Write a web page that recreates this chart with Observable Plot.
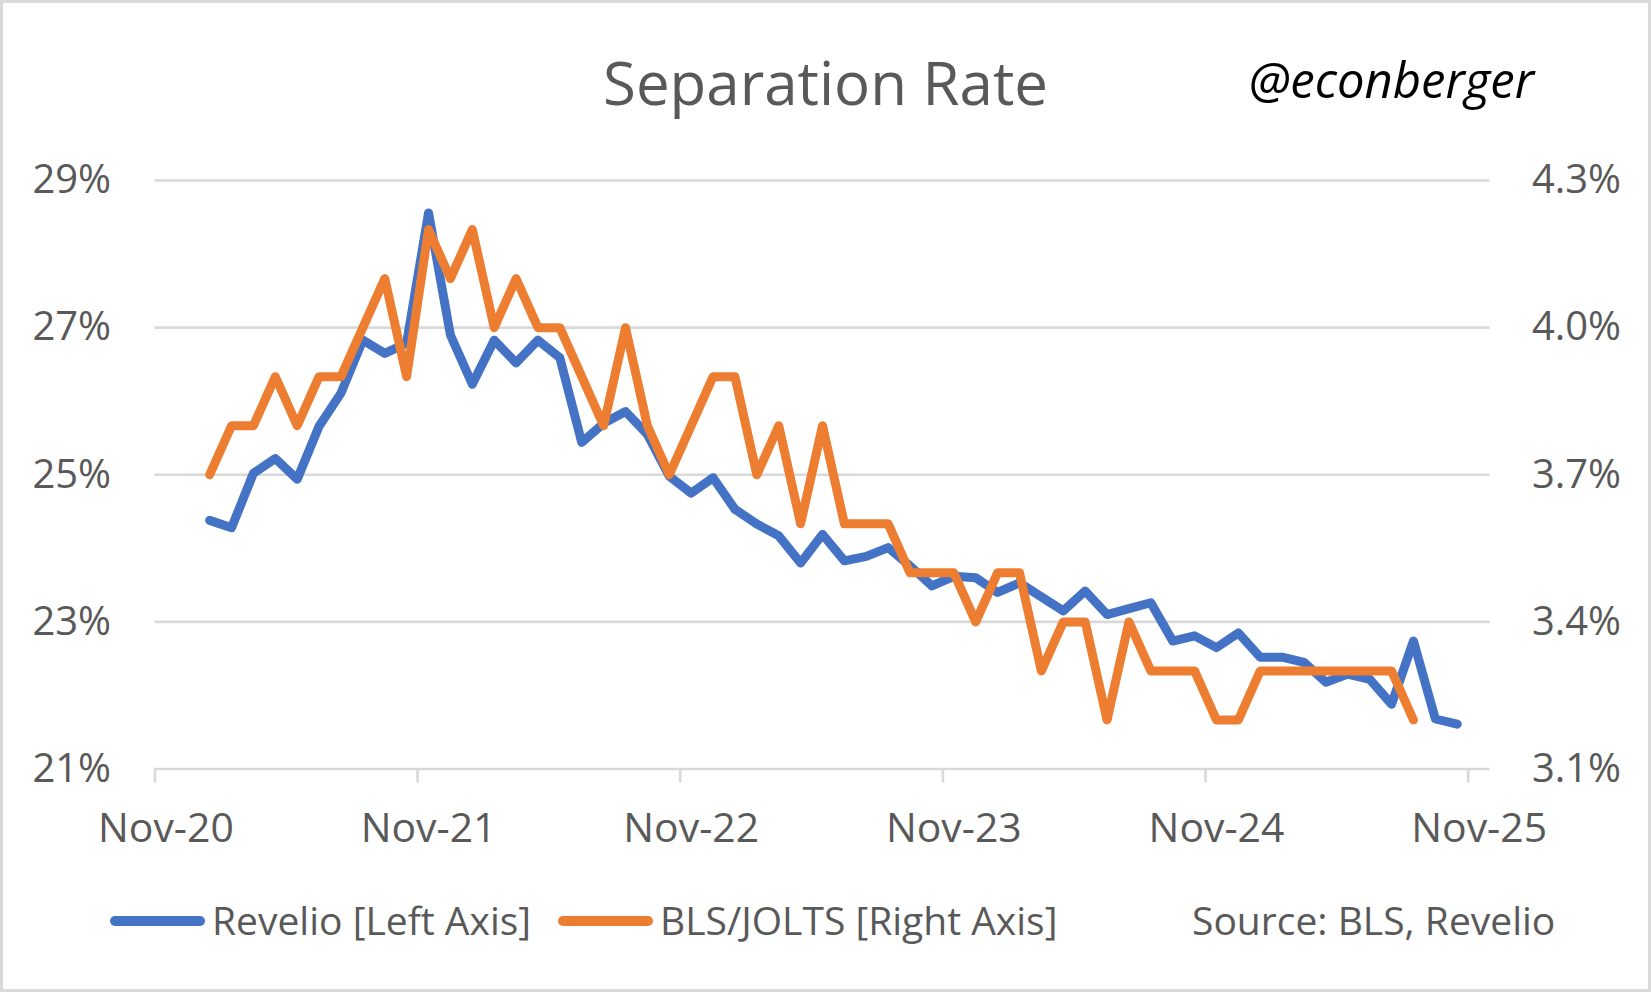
<!DOCTYPE html>
<html>
<head>
<meta charset="utf-8">
<script src="https://cdn.jsdelivr.net/npm/d3@7"></script>
<script src="https://cdn.jsdelivr.net/npm/@observablehq/plot@0.6"></script>
<style>
  html, body { margin: 0; padding: 0; background: #fff; }
  #frame { position: relative; width: 1651px; height: 992px; box-sizing: border-box; border: 3px solid #D9D9D9; overflow: hidden; background: #fff; font-family: "Open Sans", sans-serif; }
  #chart { position: absolute; left: -3px; top: 127px; }
  .abs { position: absolute; white-space: nowrap; }
  #title { left: -3px; width: 1651px; text-align: center; top: 49px; font-size: 60px; line-height: 60px; color: #595959; }
  #handle { right: 114px; top: 52px; font-size: 49px; line-height: 49px; font-style: italic; color: #000; }
  .leg { font-size: 39px; line-height: 39px; color: #595959; top: 897px; }
  .sw { height: 9.5px; border-radius: 5px; top: 913px; }
</style>
</head>
<body>
<div id="frame">
  <div id="title" class="abs">Separation Rate</div>
  <div id="handle" class="abs">@econberger</div>
  <div id="chart"></div>
  <div class="abs sw" style="left:107px; width:95px; background:#4472C4"></div>
  <div class="abs leg" style="left:209px">Revelio [Left Axis]</div>
  <div class="abs sw" style="left:555px; width:95px; background:#ED7D31"></div>
  <div class="abs leg" style="left:657px">BLS/JOLTS [Right Axis]</div>
  <div class="abs leg" style="left:1189px">Source: BLS, Revelio</div>
</div>
<script>
// Month categories: index 0 = Nov-2020 on the axis; series start Jan-2021
const firstMonthIndex = 2; // Jan-21

// Revelio separation rate (%), left axis, Jan-21 .. Oct-25
const revelio = [
  24.38, 24.28, 25.02, 25.22, 24.94, 25.66, 26.11, 26.83, 26.65, 26.79, 28.56, 26.90,
  26.23, 26.83, 26.52, 26.83, 26.59, 25.44, 25.70, 25.86, 25.55, 24.98, 24.75, 24.96,
  24.53, 24.33, 24.17, 23.80, 24.19, 23.83, 23.89, 24.01, 23.76, 23.49, 23.62, 23.60,
  23.40, 23.53, 23.34, 23.15, 23.42, 23.10, 23.18, 23.26, 22.74, 22.81, 22.65, 22.85,
  22.52, 22.52, 22.45, 22.18, 22.29, 22.22, 21.88, 22.74, 21.68, 21.61
];

// BLS/JOLTS separation rate (%), right axis, Jan-21 .. Aug-25
const jolts = [
  3.7, 3.8, 3.8, 3.9, 3.8, 3.9, 3.9, 4.0, 4.1, 3.9, 4.2, 4.1,
  4.2, 4.0, 4.1, 4.0, 4.0, 3.9, 3.8, 4.0, 3.8, 3.7, 3.8, 3.9,
  3.9, 3.7, 3.8, 3.6, 3.8, 3.6, 3.6, 3.6, 3.5, 3.5, 3.5, 3.4,
  3.5, 3.5, 3.3, 3.4, 3.4, 3.2, 3.4, 3.3, 3.3, 3.3, 3.2, 3.2,
  3.3, 3.3, 3.3, 3.3, 3.3, 3.3, 3.3, 3.2
];

const xTickMonths = [0, 12, 24, 36, 48, 60];
const xTickLabels = ["Nov-20", "Nov-21", "Nov-22", "Nov-23", "Nov-24", "Nov-25"];
const leftTicks = [21, 23, 25, 27, 29];
const leftTickLabels = ["21%", "23%", "25%", "27%", "29%"];
const rightTicks = [3.1, 3.4, 3.7, 4.0, 4.3];
const rightTickLabels = ["3.1%", "3.4%", "3.7%", "4.0%", "4.3%"];

// right axis mapped linearly onto left axis
const rightToLeft = d3.scaleLinear().domain([3.1, 4.3]).range([21, 29]);

const revelioData = revelio.map((v, i) => ({m: firstMonthIndex + i + 0.5, v}));
const joltsData = jolts.map((v, i) => ({m: firstMonthIndex + i + 0.5, v}));

const chart = Plot.plot({
  width: 1651,
  height: 740,
  marginLeft: 154.7,
  marginRight: 158.7,
  marginTop: 50.1,
  marginBottom: 100.3,
  style: {fontFamily: "Open Sans", fontSize: "40px", color: "#595959", background: "transparent", overflow: "visible"},
  x: {type: "linear", domain: [0, 61], label: null},
  y: {domain: [21, 29], label: null},
  marks: [
    Plot.ruleY(leftTicks, {stroke: "#D9D9D9", strokeWidth: 2.6}),
    Plot.axisX(xTickMonths, {tickSize: 14, stroke: "#D9D9D9", strokeWidth: 2.6, tickFormat: () => "", label: null}),
    Plot.axisX(xTickMonths.map(m => m + 0.5), {tickSize: 0, tickPadding: 44, fill: "#595959", fontSize: 41,
      tickFormat: d => xTickLabels[xTickMonths.indexOf(d - 0.5)], label: null}),
    Plot.axisY(leftTicks, {anchor: "left", tickSize: 0, tickPadding: 44, fill: "#595959", fontSize: 40,
      tickFormat: d => leftTickLabels[leftTicks.indexOf(d)], label: null}),
    Plot.axisY(rightTicks.map(v => rightToLeft(v)), {anchor: "right", tickSize: 0, tickPadding: 42, fill: "#595959", fontSize: 40,
      tickFormat: d => rightTickLabels[leftTicks.indexOf(Math.round(d))], label: null}),
    Plot.line(revelioData, {x: "m", y: "v", stroke: "#4472C4", strokeWidth: 9, strokeLinejoin: "round", strokeLinecap: "round"}),
    Plot.line(joltsData, {x: "m", y: d => rightToLeft(d.v), stroke: "#ED7D31", strokeWidth: 9, strokeLinejoin: "round", strokeLinecap: "round"})
  ]
});
document.getElementById("chart").appendChild(chart);
</script>
</body>
</html>
